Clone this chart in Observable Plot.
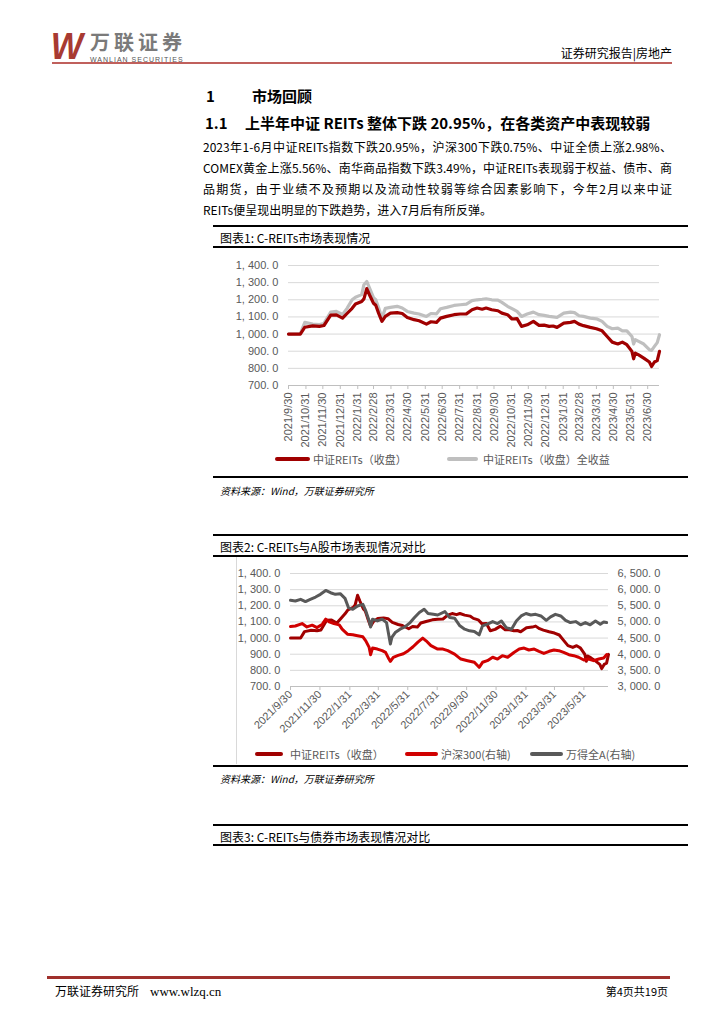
<!DOCTYPE html>
<html><head><meta charset="utf-8">
<script src="https://cdn.jsdelivr.net/npm/d3@7"></script>
<script src="https://cdn.jsdelivr.net/npm/@observablehq/plot@0.6"></script>
<style>
body{margin:0;background:#fff;}
#page{position:relative;width:724px;height:1024px;overflow:hidden;font-family:"Noto Sans CJK SC",sans-serif;color:#000;background:#fff;}
.t{position:absolute;white-space:nowrap;line-height:1;}
.hl{position:absolute;background:#000;}
.sw{position:absolute;height:4px;border-radius:2px;}
.chart{position:absolute;}
</style></head><body><div id="page"></div>
<script>
// ---------- DATA ----------
// 中证REITs（收盘） and 中证REITs（收盘）全收益 (read from chart 1)
const reitsDates = ["2021-09-30","2021-10-21","2021-10-29","2021-11-12","2021-11-24","2021-12-02","2021-12-14","2021-12-24","2022-01-04","2022-01-12","2022-01-21","2022-01-27","2022-02-07","2022-02-11","2022-02-16","2022-02-21","2022-02-28","2022-03-04","2022-03-09","2022-03-15","2022-03-21","2022-03-30","2022-04-11","2022-04-20","2022-04-29","2022-05-11","2022-05-20","2022-06-02","2022-06-10","2022-06-20","2022-06-27","2022-07-08","2022-07-21","2022-08-01","2022-08-12","2022-08-22","2022-08-31","2022-09-09","2022-09-16","2022-09-26","2022-10-07","2022-10-14","2022-10-24","2022-11-01","2022-11-10","2022-11-18","2022-11-28","2022-12-09","2022-12-19","2022-12-28","2023-01-06","2023-01-13","2023-01-20","2023-02-01","2023-02-13","2023-02-20","2023-02-28","2023-03-08","2023-03-20","2023-03-31","2023-04-10","2023-04-19","2023-04-28","2023-05-08","2023-05-16","2023-05-24","2023-06-02","2023-06-05","2023-06-08","2023-06-14","2023-06-23","2023-07-03","2023-07-07","2023-07-12","2023-07-17","2023-07-21"];
const reitsClose = [1000,1000,1040,1048,1045,1050,1110,1112,1093,1120,1150,1175,1190,1205,1265,1228,1180,1168,1122,1074,1103,1122,1125,1120,1097,1084,1078,1058,1072,1068,1093,1103,1113,1117,1118,1142,1152,1145,1152,1142,1136,1122,1113,1088,1090,1045,1054,1074,1051,1052,1045,1047,1039,1064,1068,1074,1058,1049,1039,1031,1019,986,953,942,953,938,899,856,889,879,860,837,811,837,845,899];
const reitsTotal = [1000,1002,1068,1058,1055,1062,1128,1132,1115,1150,1200,1215,1230,1288,1307,1268,1212,1200,1155,1093,1150,1156,1162,1152,1132,1122,1117,1103,1120,1118,1148,1156,1167,1171,1175,1195,1200,1203,1206,1200,1198,1185,1162,1148,1132,1103,1117,1128,1113,1109,1103,1100,1097,1122,1128,1125,1107,1103,1093,1089,1074,1045,1031,1035,1019,1019,986,942,967,957,942,909,905,928,950,996];
// 沪深300（右轴）
const hs300Dates = ["2021-09-30","2021-10-10","2021-10-24","2021-11-03","2021-11-14","2021-11-24","2021-12-05","2021-12-12","2021-12-19","2021-12-29","2022-01-09","2022-01-15","2022-01-26","2022-02-06","2022-02-16","2022-02-27","2022-03-05","2022-03-12","2022-03-15","2022-03-19","2022-03-29","2022-04-08","2022-04-15","2022-04-22","2022-04-25","2022-05-01","2022-05-11","2022-05-22","2022-06-01","2022-06-11","2022-06-21","2022-07-01","2022-07-08","2022-07-18","2022-08-01","2022-08-12","2022-08-22","2022-09-05","2022-09-18","2022-10-02","2022-10-16","2022-10-26","2022-11-02","2022-11-12","2022-11-23","2022-12-03","2022-12-13","2022-12-24","2023-01-06","2023-01-17","2023-01-27","2023-02-06","2023-02-17","2023-02-27","2023-03-09","2023-03-20","2023-03-30","2023-04-09","2023-04-19","2023-04-30","2023-05-10","2023-05-20","2023-05-31","2023-06-10","2023-06-20","2023-07-01","2023-07-11","2023-07-17"];
const hs300Values = [4855,4875,4950,4845,4900,4825,4930,5085,5000,4950,4910,4775,4620,4600,4570,4540,4415,4210,3985,4190,4160,4110,4055,3850,3780,3905,3965,4015,4110,4230,4375,4500,4415,4265,4160,4160,4110,4005,3850,3800,3750,3595,3750,3800,3905,3850,3955,3905,4055,4160,4190,4130,4160,4090,4025,4090,4130,4110,4055,3985,3955,3905,3820,3850,3800,3850,3880,3985];
// 万得全A（右轴）
const windADates = ["2021-09-30","2021-10-10","2021-10-21","2021-10-31","2021-11-10","2021-11-21","2021-12-01","2021-12-12","2021-12-22","2022-01-01","2022-01-11","2022-01-21","2022-01-28","2022-02-06","2022-02-16","2022-02-27","2022-03-05","2022-03-12","2022-03-15","2022-03-19","2022-03-29","2022-04-08","2022-04-17","2022-04-25","2022-04-28","2022-05-05","2022-05-15","2022-05-25","2022-06-05","2022-06-14","2022-06-24","2022-07-04","2022-07-12","2022-07-23","2022-08-01","2022-08-16","2022-08-26","2022-09-05","2022-09-16","2022-09-26","2022-10-06","2022-10-16","2022-10-26","2022-11-02","2022-11-12","2022-11-23","2022-12-03","2022-12-11","2022-12-21","2023-01-01","2023-01-11","2023-01-21","2023-01-31","2023-02-10","2023-02-20","2023-03-03","2023-03-14","2023-03-23","2023-04-02","2023-04-13","2023-04-23","2023-05-03","2023-05-14","2023-05-24","2023-06-03","2023-06-13","2023-06-24","2023-07-04","2023-07-11","2023-07-17"];
const windAValues = [5670,5650,5700,5630,5700,5770,5855,5975,5905,5855,5875,5730,5445,5390,5495,5545,5340,5030,4845,5085,5030,5085,4980,4315,4520,4670,4775,4845,4980,5135,5290,5390,5260,5235,5215,5320,5135,5115,4880,4775,4725,4705,4600,4880,4930,5010,4950,5030,4825,4775,5030,5185,5260,5215,5235,5185,5050,5155,5235,5185,5050,4980,5010,4910,4980,4910,5030,4930,5000,4980];
// tick labels
const chart1Ticks = ["2021/9/30","2021/10/31","2021/11/30","2021/12/31","2022/1/31","2022/2/28","2022/3/31","2022/4/30","2022/5/31","2022/6/30","2022/7/31","2022/8/31","2022/9/30","2022/10/31","2022/11/30","2022/12/31","2023/1/31","2023/2/28","2023/3/31","2023/4/30","2023/5/31","2023/6/30"];
const chart2Ticks = ["2021/9/30","2021/11/30","2022/1/31","2022/3/31","2022/5/31","2022/7/31","2022/9/30","2022/11/30","2023/1/31","2023/3/31","2023/5/31"];
const leftTicks = [700,800,900,1000,1100,1200,1300,1400];
const rightTicks = [3000,3500,4000,4500,5000,5500,6000,6500];

// ---------- helpers ----------
const page = document.getElementById("page");
const parse = s => { const [y,m,d] = s.split(/[-\/]/).map(Number); return new Date(Date.UTC(y, m-1, d)); };
const lab = d => `${d.getUTCFullYear()}/${d.getUTCMonth()+1}/${d.getUTCDate()}`;
const fmt = v => d3.format(",.1f")(v).replace(",", ", ").replace(".", ". ");
function txt(s, x, yc, size, opts = {}) {
  const e = document.createElement("div");
  e.className = "t";
  e.textContent = s;
  e.style.fontSize = size + "px";
  e.style.top = (yc - size / 2) + "px";
  if (opts.right !== undefined) { e.style.right = (724 - opts.right) + "px"; } else e.style.left = x + "px";
  if (opts.width) { e.style.width = opts.width + "px"; e.style.textAlign = "justify"; e.style.textAlignLast = "justify"; }
  for (const k of ["fontWeight","fontStyle","color","fontFamily","letterSpacing","transform","transformOrigin"]) if (opts[k]) e.style[k] = opts[k];
  page.appendChild(e); return e;
}
function hline(x1, x2, y, h, color = "#000") {
  const e = document.createElement("div"); e.className = "hl";
  Object.assign(e.style, {left: x1 + "px", width: (x2 - x1) + "px", top: (y - h / 2) + "px", height: h + "px", background: color});
  page.appendChild(e);
}
function swatch(x1, x2, yc, color) {
  const e = document.createElement("div"); e.className = "sw";
  Object.assign(e.style, {left: x1 + "px", width: (x2 - x1) + "px", top: (yc - 2) + "px", background: color});
  page.appendChild(e);
}

// ---------- header ----------
txt("W", 50, 47, 36, {fontWeight: "700", fontStyle: "italic", color: "#A83A32", fontFamily: "Liberation Sans, Arial", transform: "scaleX(0.95)"});
txt("万联证券", 90, 42, 20, {fontWeight: "700", color: "#7a7a7a", letterSpacing: "4px"});
txt("WANLIAN SECURITIES", 90, 59.5, 7, {color: "#555", fontFamily: "Liberation Sans, Arial", letterSpacing: "1px"});
txt("证券研究报告|房地产", 0, 53, 12, {right: 672, color: "#000"});
hline(52, 672, 63, 1.2, "#C0605C");

// ---------- headings & paragraph ----------
txt("1", 206, 95, 15, {fontWeight: "700"});
txt("市场回顾", 252, 95, 15, {fontWeight: "700"});
txt("1.1", 205, 122, 15, {fontWeight: "700"});
txt("上半年中证 REITs 整体下跌 20.95%，在各类资产中表现较弱", 245, 122, 15, {fontWeight: "700"});
const para = [
  "2023年1-6月中证REITs指数下跌20.95%，沪深300下跌0.75%、中证全债上涨2.98%、",
  "COMEX黄金上涨5.56%、南华商品指数下跌3.49%，中证REITs表现弱于权益、债市、商",
  "品期货，由于业绩不及预期以及流动性较弱等综合因素影响下，今年2月以来中证",
  "REITs便呈现出明显的下跌趋势，进入7月后有所反弹。"
];
para.forEach((s, i) => txt(s, 203, 147 + i * 21, 12, i < 3 ? {width: 469} : {}));

// ---------- figure 1 frame ----------
hline(213, 688, 226, 2);
txt("图表1: C-REITs市场表现情况", 220, 238, 12);
hline(213, 688, 247, 2);
hline(213, 688, 477, 2);
txt("资料来源：Wind，万联证券研究所", 220, 491, 10, {fontStyle: "italic"});

// ---------- figure 1 chart ----------
const c1 = reitsDates.map((d, i) => ({date: parse(d), close: reitsClose[i], total: reitsTotal[i]}));
const xDomain = [parse("2021-09-30"), parse("2023-07-21")];
const plotStyle = {fontFamily: "Liberation Sans, Arial, sans-serif", fontSize: "11px", background: "transparent", overflow: "visible"};
const p1 = Plot.plot({
  width: 475, height: 200,
  marginLeft: 75, marginRight: 29, marginTop: 15, marginBottom: 65,
  style: plotStyle,
  x: {type: "utc", domain: xDomain},
  y: {domain: [700, 1400]},
  marks: [
    Plot.ruleY(leftTicks.slice(1), {stroke: "#D9D9D9", strokeWidth: 1}),
    Plot.ruleY([700], {stroke: "#BFBFBF", strokeWidth: 1}),
    Plot.axisY({ticks: leftTicks, tickSize: 0, tickPadding: 10, tickFormat: fmt, label: null, fill: "#595959", fontSize: 11}),
    Plot.axisX({ticks: chart1Ticks.map(parse), tickRotate: -90, tickFormat: lab, tickSize: 4, tickPadding: 3, stroke: "#BFBFBF", fill: "#595959", label: null, fontSize: 11}),
    Plot.line(c1, {x: "date", y: "total", stroke: "#BFBFBF", strokeWidth: 3.2, strokeLinejoin: "round"}),
    Plot.line(c1, {x: "date", y: "close", stroke: "#A00000", strokeWidth: 3.2, strokeLinejoin: "round"})
  ]
});
p1.classList.add("chart"); p1.style.left = "213px"; p1.style.top = "250px";
page.appendChild(p1);
// legend 1
swatch(275, 310, 459, "#A00000");
txt("中证REITs（收盘）", 313, 459, 11, {color: "#595959"});
swatch(447, 478, 459, "#BFBFBF");
txt("中证REITs（收盘）全收益", 483, 459, 11, {color: "#595959"});

// ---------- figure 2 frame ----------
hline(213, 688, 535, 2);
txt("图表2: C-REITs与A股市场表现情况对比", 220, 547, 12);
hline(213, 688, 556, 2);
const vb = document.createElement("div");
Object.assign(vb.style, {position: "absolute", left: "236px", top: "557px", width: "1px", height: "207px", background: "#D9D9D9"});
page.appendChild(vb);
hline(213, 688, 766, 2);
txt("资料来源：Wind，万联证券研究所", 220, 779, 10, {fontStyle: "italic"});

// ---------- figure 2 chart ----------
const toLeft = v => (v + 500) / 5; // right axis (3000–6500) mapped onto left axis (700–1400)
const c2hs = hs300Dates.map((d, i) => ({date: parse(d), v: toLeft(hs300Values[i])}));
const c2wa = windADates.map((d, i) => ({date: parse(d), v: toLeft(windAValues[i])}));
const p2 = Plot.plot({
  width: 451, height: 190,
  marginLeft: 53, marginRight: 80, marginTop: 13, marginBottom: 64,
  style: plotStyle,
  x: {type: "utc", domain: xDomain},
  y: {domain: [700, 1400]},
  marks: [
    Plot.ruleY(leftTicks.slice(1), {stroke: "#D9D9D9", strokeWidth: 1}),
    Plot.ruleY([700], {stroke: "#BFBFBF", strokeWidth: 1}),
    Plot.axisY({ticks: leftTicks, tickSize: 0, tickPadding: 10, tickFormat: fmt, label: null, fill: "#595959", fontSize: 11}),
    Plot.axisY({anchor: "right", ticks: rightTicks.map(toLeft), tickSize: 0, tickPadding: 9, tickFormat: d => fmt(d * 5 - 500), label: null, fill: "#595959", fontSize: 11}),
    Plot.axisX({ticks: chart2Ticks.map(parse), tickRotate: -45, tickFormat: lab, tickSize: 4, tickPadding: 2, stroke: "#BFBFBF", fill: "#595959", label: null, fontSize: 11}),
    Plot.line(c1, {x: "date", y: "close", stroke: "#A00000", strokeWidth: 3, strokeLinejoin: "round"}),
    Plot.line(c2hs, {x: "date", y: "v", stroke: "#D00000", strokeWidth: 3, strokeLinejoin: "round"}),
    Plot.line(c2wa, {x: "date", y: "v", stroke: "#595959", strokeWidth: 3, strokeLinejoin: "round"})
  ]
});
p2.classList.add("chart"); p2.style.left = "237px"; p2.style.top = "560px";
page.appendChild(p2);
// legend 2
swatch(255, 283, 754, "#A00000");
txt("中证REITs（收盘）", 290, 754, 11, {color: "#595959"});
swatch(405, 438, 754, "#D00000");
txt("沪深300(右轴)", 441, 754, 11, {color: "#595959"});
swatch(530, 563, 754, "#595959");
txt("万得全A(右轴)", 566, 754, 11, {color: "#595959"});

// ---------- figure 3 frame ----------
hline(213, 688, 825, 2);
txt("图表3: C-REITs与债券市场表现情况对比", 220, 837, 12);
hline(213, 688, 845, 2);

// ---------- footer ----------
hline(47, 670, 977, 3, "#A0302C");
txt("万联证券研究所", 55, 991, 12);
txt("www.wlzq.cn", 150, 991, 13, {fontFamily: "Liberation Serif, serif"});
txt("第4页共19页", 0, 991, 11, {right: 668});
</script></body></html>
